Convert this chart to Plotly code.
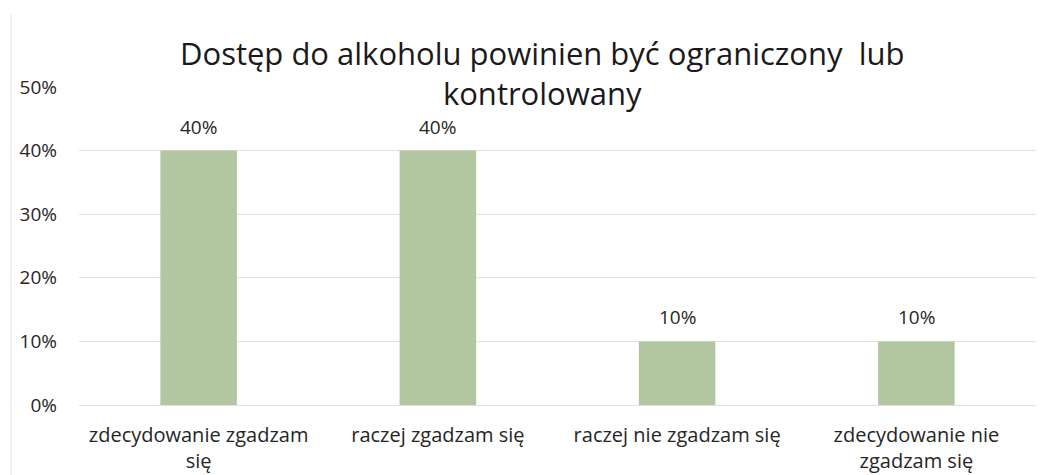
import plotly.graph_objects as go

categories = ["zdecydowanie zgadzam<br>się", "raczej zgadzam się",
              "raczej nie zgadzam się", "zdecydowanie nie<br>zgadzam się"]
values = [0.40, 0.40, 0.10, 0.10]
value_labels = ["40%", "40%", "10%", "10%"]
title_text = "Dostęp do alkoholu powinien być ograniczony  lub<br>kontrolowany"

FONT = "Open Sans"
fig = go.Figure()
fig.add_trace(go.Bar(
    x=categories, y=values,
    marker=dict(color="#b3c6a2", line=dict(width=0)),
    hoverinfo="skip",
))
for c, v, t in zip(categories, values, value_labels):
    fig.add_annotation(x=c, y=v, text=t, showarrow=False, yanchor="bottom",
                       yshift=9, font=dict(family=FONT, size=19, color="#262626"))

fig.add_annotation(x=0.484, xref="paper", y=1.044, yref="paper", text=title_text,
                   showarrow=False, xanchor="center", yanchor="middle",
                   font=dict(family=FONT, size=31, color="#1a1a1a"))

fig.update_layout(
    width=1059, height=475,
    margin=dict(l=79, r=23, t=87, b=70),
    paper_bgcolor="white", plot_bgcolor="white",
    bargap=0.68,
    showlegend=False,
    font=dict(family=FONT, size=19, color="#262626"),
)
fig.update_yaxes(range=[0, 0.5], dtick=0.1, tickformat=".0%", automargin=False,
                 showgrid=True, gridcolor="#e0e0e0", gridwidth=1,
                 zeroline=True, zerolinecolor="#e0e0e0", zerolinewidth=1,
                 showline=False, ticklabelstandoff=21,
                 tickfont=dict(family=FONT, size=19, color="#262626"))
fig.update_xaxes(showgrid=False, showline=False, ticks="", automargin=False,
                 ticklabelstandoff=16,
                 tickfont=dict(family=FONT, size=20, color="#262626"))
fig.add_shape(type="line", xref="paper", yref="paper", x0=-0.071, x1=-0.071,
              y0=-0.22, y1=1.23, line=dict(color="#e3e3e3", width=1))
fig.write_html("out.html", config={"displayModeBar": False},
               post_script="document.body.style.margin='0';document.body.style.overflow='hidden';")
